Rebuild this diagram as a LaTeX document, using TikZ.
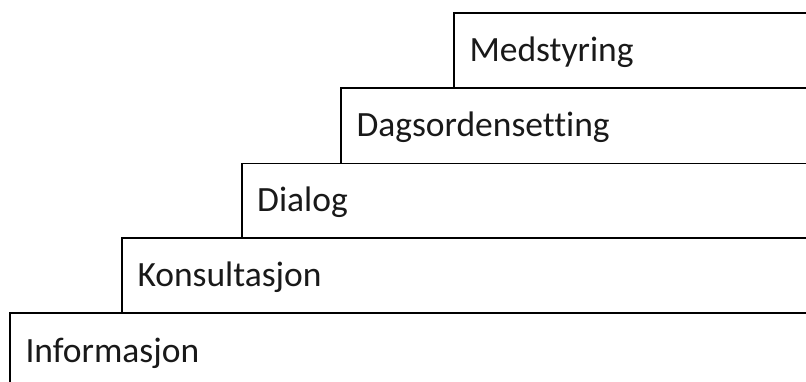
\documentclass[tikz,border=0pt]{standalone}
\usepackage{fontspec}
\setmainfont[Ligatures=NoCommon]{Carlito}
\begin{document}
\begin{tikzpicture}[x=1pt,y=1pt,
  stepbox/.style={draw=black, line width=1.6pt, fill=white, rectangle, inner sep=0pt, anchor=north west},
  lbl/.style={inner sep=0pt, anchor=base west, font=\fontsize{35.5}{40}\selectfont, text=black!90}]
\useasboundingbox (0,0) rectangle (806,381);
\clip (0,0) rectangle (806,381);
\node[stepbox, minimum width=820-453.3, minimum height=75] (b5) at (453.3,368.5) {};
\node[stepbox, minimum width=820-340.3, minimum height=75] (b4) at (340.3,293.5) {};
\node[stepbox, minimum width=820-241, minimum height=75] (b3) at (241,218.5) {};
\node[stepbox, minimum width=820-121.3, minimum height=75] (b2) at (121.3,143.7) {};
\node[stepbox, minimum width=820-9.3, minimum height=85] (b1) at (9.3,69) {};
\node[lbl] (t1) at ([xshift=16pt,yshift=-50pt]b1.north west) {Informasjon};
\node[lbl] (t2) at ([xshift=16pt,yshift=-49pt]b2.north west) {Konsultasjon};
\node[lbl] (t3) at ([xshift=16pt,yshift=-49pt]b3.north west) {Dialog};
\node[lbl] (t4) at ([xshift=16pt,yshift=-49pt]b4.north west) {Dagsordensetting};
\node[lbl] (t5) at ([xshift=16pt,yshift=-49pt]b5.north west) {Medstyring};
\end{tikzpicture}
\end{document}
